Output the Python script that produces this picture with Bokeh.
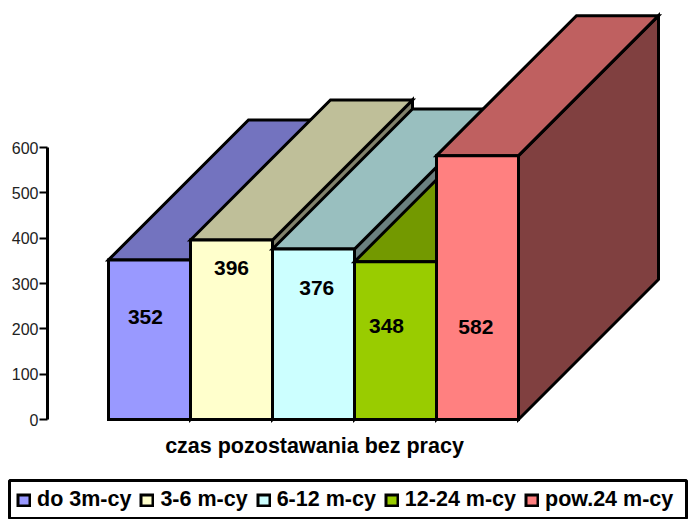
from bokeh.plotting import figure
from bokeh.models import Range1d, Legend, LegendItem, LinearAxis, FixedTicker, Label, BoxAnnotation
from bokeh.embed import file_html
from bokeh.resources import INLINE
from bokeh.core.properties import value

categories = ["do 3m-cy", "3-6 m-cy", "6-12 m-cy", "12-24 m-cy", "pow.24 m-cy"]
values = [352, 396, 376, 348, 582]
front = ["#9999FF", "#FFFFCC", "#CCFFFF", "#99CC00", "#FF8080"]
top = ["#7373BF", "#BFBF99", "#99BFBF", "#739900", "#BF6060"]
side = ["#5C5C99", "#80806B", "#6B8080", "#5C7A00", "#804040"]
y_ticks = [0, 100, 200, 300, 400, 500, 600]
axis_title = "czas pozostawania bez pracy"
value_x = [0.45, 0.50, 0.54, 0.39, 0.48]
value_y = [227, 335, 289, 207, 203]

W, H = 688, 519
PX_X = 82.0            # pixels per bar
PX_Y = 272.0 / 600     # pixels per unit
X0, Y0 = 108, 100      # position of the origin in the canvas
DX = 140 / PX_X        # depth in bars
DY = 140 / PX_Y        # depth in value units

p = figure(width=W, height=H, output_backend="svg", toolbar_location=None,
           x_range=Range1d(-X0 / PX_X, (W - X0) / PX_X),
           y_range=Range1d(-Y0 / PX_Y, (H - Y0) / PX_Y),
           min_border=0, outline_line_color=None, background_fill_color="white",
           x_axis_location=None, y_axis_location=None)
p.grid.visible = False

fronts = []
for i, (v, fc, tc, sc) in enumerate(zip(values, front, top, side)):
    style = dict(line_color="black", line_width=3, line_join="miter")
    p.patch([i + 1, i + 1 + DX, i + 1 + DX, i + 1], [0, DY, v + DY, v], fill_color=sc, **style)
    p.patch([i, i + DX, i + 1 + DX, i + 1], [v, v + DY, v + DY, v], fill_color=tc, **style)
    fronts.append(p.patch([i, i + 1, i + 1, i], [0, 0, v, v], fill_color=fc, **style))

p.text([i + x for i, x in enumerate(value_x)], value_y, text=[str(v) for v in values],
       text_font=value("Liberation Sans"), text_font_style="bold", text_font_size="21px",
       text_color="black", text_align="center", text_baseline="middle")

axis = LinearAxis(ticker=FixedTicker(ticks=y_ticks), bounds=(0, 600),
                  axis_line_width=3, axis_line_color="black",
                  major_tick_line_width=2, major_tick_line_color="black",
                  major_tick_in=0, major_tick_out=8, minor_tick_line_color=None,
                  major_label_text_font="Liberation Sans", major_label_text_font_size="16px",
                  major_label_text_color="#222222", major_label_standoff=1,
                  fixed_location=-(X0 - 47) / PX_X)
p.add_layout(axis, "left")

p.add_layout(Label(x=314, y=H - 445, x_units="screen", y_units="screen", text=axis_title,
                   text_font="Liberation Sans", text_font_style="bold", text_font_size="21.5px",
                   text_align="center", text_baseline="middle", text_color="black"))

legend = Legend(items=[LegendItem(label=c, renderers=[r]) for c, r in zip(categories, fronts)],
                orientation="horizontal", location=(16, 7),
                glyph_width=15, glyph_height=14, spacing=8, padding=7, margin=0,
                label_standoff=6, label_text_font="Liberation Sans",
                label_text_font_style="bold", label_text_font_size="21.5px",
                label_text_color="black", border_line_color=None,
                background_fill_alpha=0)
p.add_layout(legend, "center")

p.add_layout(BoxAnnotation(left=9, right=686, top_units="screen", bottom_units="screen",
                           left_units="screen", right_units="screen", top=H - 480, bottom=H - 518,
                           fill_alpha=0, line_color="black", line_alpha=1, line_width=3))

open("out.html", "w").write(file_html(p, INLINE))
